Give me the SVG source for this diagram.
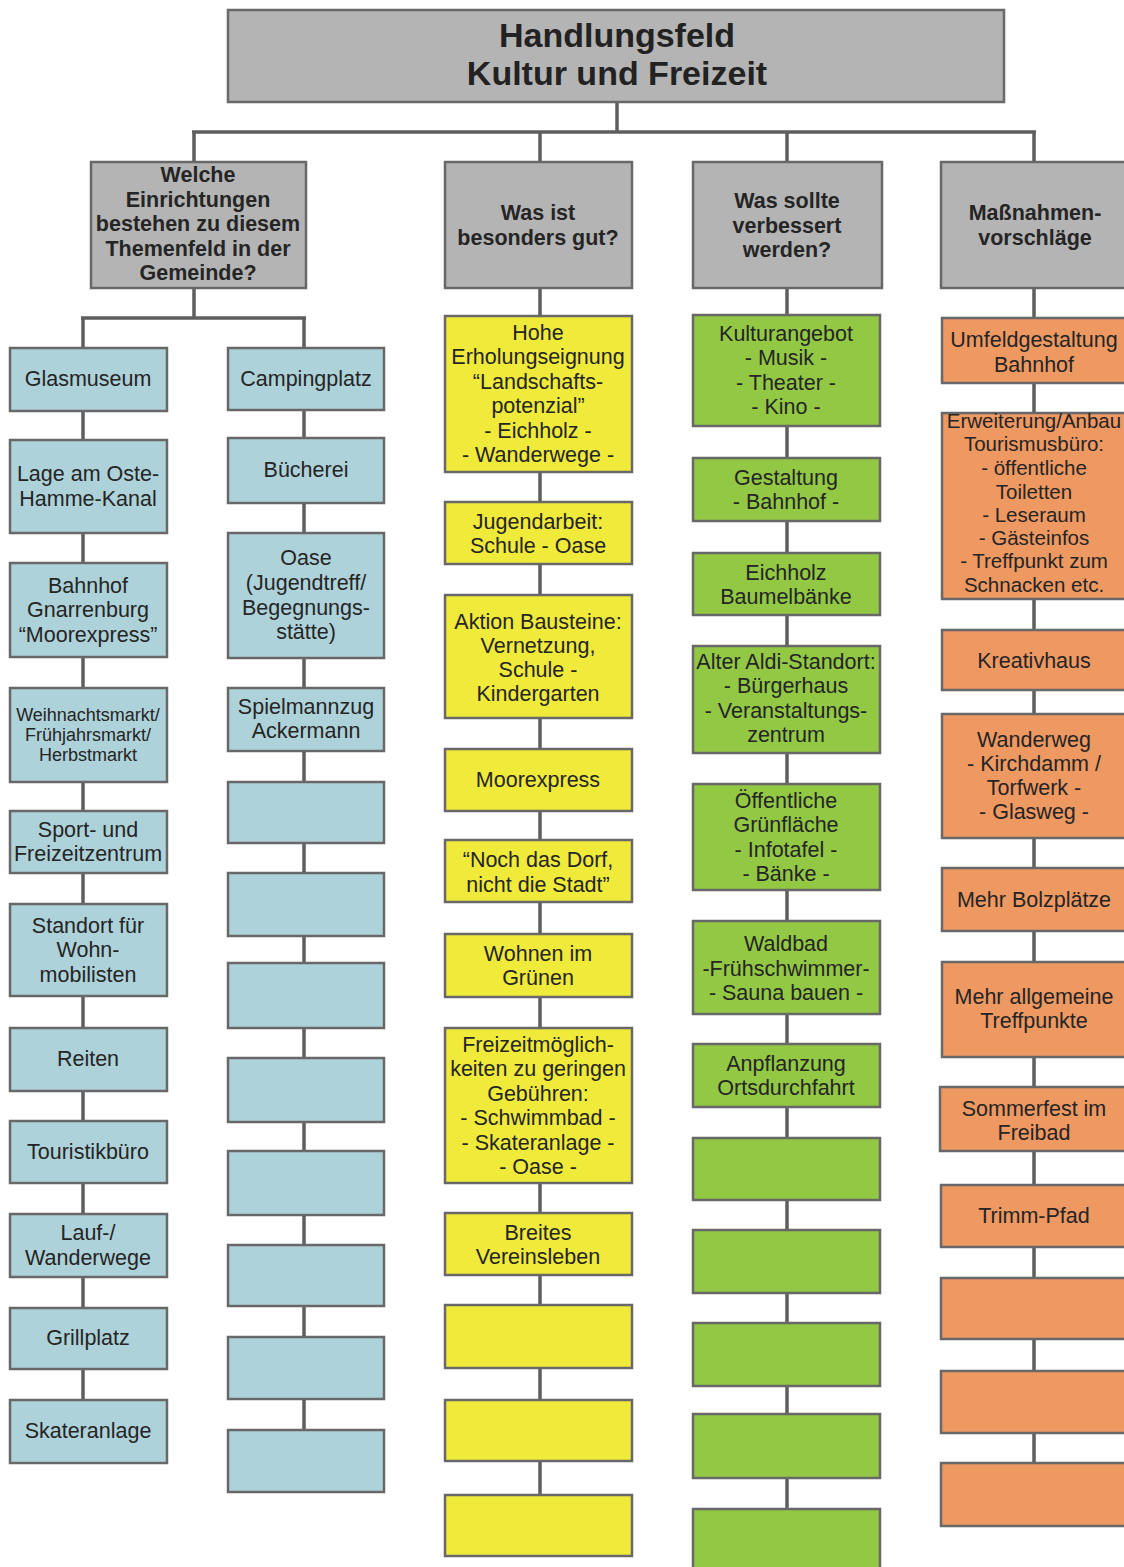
<svg xmlns="http://www.w3.org/2000/svg" width="1124" height="1567" viewBox="0 0 1124 1567">
<style>
rect{stroke:#686868;stroke-width:2.5}
.h{fill:#b4b4b4}
.b{fill:#aed2d9}
.y{fill:#f0ea3a}
.g{fill:#92c844}
.o{fill:#ee9862}
text{font-family:"Liberation Sans",Arial,sans-serif;font-size:21.5px;fill:#252525;text-anchor:middle}
.bold{font-weight:bold}
.title{font-weight:bold;font-size:34px;fill:#222}
.sm{font-size:18px}
.con line{stroke:#5e5e5e;stroke-width:3.5;fill:none}
</style>
<rect x="0" y="0" width="1124" height="1567" style="fill:#fff;stroke:none"/>
<g class="con" id="connectors">
<line x1="617" y1="102" x2="617" y2="132"/>
<line x1="192" y1="132" x2="1036" y2="132"/>
<line x1="194" y1="132" x2="194" y2="162"/>
<line x1="540" y1="132" x2="540" y2="162"/>
<line x1="787" y1="132" x2="787" y2="162"/>
<line x1="1034" y1="132" x2="1034" y2="162"/>
<line x1="194" y1="288" x2="194" y2="318"/>
<line x1="81" y1="318" x2="306" y2="318"/>
<line x1="83" y1="318" x2="83" y2="1400"/>
<line x1="304" y1="318" x2="304" y2="1430"/>
<line x1="540" y1="288" x2="540" y2="1495"/>
<line x1="787" y1="288" x2="787" y2="1509"/>
<line x1="1034" y1="288" x2="1034" y2="1463"/>
</g>
<g id="title"><rect class="h" x="228" y="10" width="776" height="92"/><text class="title" x="617" y="47">Handlungsfeld</text><text class="title" x="617" y="85">Kultur und Freizeit</text></g>
<g id="h1"><rect class="h" x="91" y="162" width="215" height="126"/><text class="bold"><tspan x="198" y="182">Welche</tspan><tspan x="198" y="207">Einrichtungen</tspan><tspan x="198" y="231">bestehen zu diesem</tspan><tspan x="198" y="256">Themenfeld in der</tspan><tspan x="198" y="280">Gemeinde?</tspan></text></g>
<g id="h2"><rect class="h" x="445" y="162" width="187" height="126"/><text class="bold"><tspan x="538" y="220">Was ist</tspan><tspan x="538" y="245">besonders gut?</tspan></text></g>
<g id="h3"><rect class="h" x="693" y="162" width="189" height="126"/><text class="bold"><tspan x="787" y="208">Was sollte</tspan><tspan x="787" y="233">verbessert</tspan><tspan x="787" y="257">werden?</tspan></text></g>
<g id="h4"><rect class="h" x="941" y="162" width="190" height="126"/><text class="bold"><tspan x="1035" y="220">Maßnahmen-</tspan><tspan x="1035" y="245">vorschläge</tspan></text></g>

<g id="bl1"><rect class="b" x="10" y="348" width="157" height="63"/><text x="88" y="386">Glasmuseum</text></g>
<g id="bl2"><rect class="b" x="10" y="440" width="157" height="93"/><text><tspan x="88" y="481">Lage am Oste-</tspan><tspan x="88" y="506">Hamme-Kanal</tspan></text></g>
<g id="bl3"><rect class="b" x="10" y="563" width="157" height="94"/><text><tspan x="88" y="593">Bahnhof</tspan><tspan x="88" y="617">Gnarrenburg</tspan><tspan x="88" y="642">“Moorexpress”</tspan></text></g>
<g id="bl4"><rect class="b" x="10" y="688" width="157" height="94"/><text class="sm"><tspan x="88" y="721">Weihnachtsmarkt/</tspan><tspan x="88" y="741">Frühjahrsmarkt/</tspan><tspan x="88" y="761">Herbstmarkt</tspan></text></g>
<g id="bl5"><rect class="b" x="10" y="811" width="157" height="62"/><text><tspan x="88" y="837">Sport- und</tspan><tspan x="88" y="861">Freizeitzentrum</tspan></text></g>
<g id="bl6"><rect class="b" x="10" y="904" width="157" height="92"/><text><tspan x="88" y="933">Standort für</tspan><tspan x="88" y="957">Wohn-</tspan><tspan x="88" y="982">mobilisten</tspan></text></g>
<g id="bl7"><rect class="b" x="10" y="1028" width="157" height="63"/><text x="88" y="1066">Reiten</text></g>
<g id="bl8"><rect class="b" x="10" y="1121" width="157" height="62"/><text x="88" y="1159">Touristikbüro</text></g>
<g id="bl9"><rect class="b" x="10" y="1214" width="157" height="63"/><text><tspan x="88" y="1240">Lauf-/</tspan><tspan x="88" y="1265">Wanderwege</tspan></text></g>
<g id="bl10"><rect class="b" x="10" y="1308" width="157" height="61"/><text x="88" y="1345">Grillplatz</text></g>
<g id="bl11"><rect class="b" x="10" y="1400" width="157" height="63"/><text x="88" y="1438">Skateranlage</text></g>

<g id="br1"><rect class="b" x="228" y="348" width="156" height="62"/><text x="306" y="386">Campingplatz</text></g>
<g id="br2"><rect class="b" x="228" y="438" width="156" height="65"/><text x="306" y="477">Bücherei</text></g>
<g id="br3"><rect class="b" x="228" y="533" width="156" height="125"/><text><tspan x="306" y="565">Oase</tspan><tspan x="306" y="590">(Jugendtreff/</tspan><tspan x="306" y="615">Begegnungs-</tspan><tspan x="306" y="639">stätte)</tspan></text></g>
<g id="br4"><rect class="b" x="228" y="688" width="156" height="63"/><text><tspan x="306" y="714">Spielmannzug</tspan><tspan x="306" y="738">Ackermann</tspan></text></g>
<g id="br5"><rect class="b" x="228" y="782" width="156" height="61"/></g>
<g id="br6"><rect class="b" x="228" y="873" width="156" height="63"/></g>
<g id="br7"><rect class="b" x="228" y="963" width="156" height="65"/></g>
<g id="br8"><rect class="b" x="228" y="1058" width="156" height="64"/></g>
<g id="br9"><rect class="b" x="228" y="1151" width="156" height="64"/></g>
<g id="br10"><rect class="b" x="228" y="1245" width="156" height="61"/></g>
<g id="br11"><rect class="b" x="228" y="1337" width="156" height="62"/></g>
<g id="br12"><rect class="b" x="228" y="1430" width="156" height="62"/></g>

<g id="y1"><rect class="y" x="445" y="316" width="187" height="156"/><text><tspan x="538" y="340">Hohe</tspan><tspan x="538" y="364">Erholungseignung</tspan><tspan x="538" y="389">“Landschafts-</tspan><tspan x="538" y="413">potenzial”</tspan><tspan x="538" y="438">- Eichholz -</tspan><tspan x="538" y="462">- Wanderwege -</tspan></text></g>
<g id="y2"><rect class="y" x="445" y="502" width="187" height="62"/><text><tspan x="538" y="529">Jugendarbeit:</tspan><tspan x="538" y="553">Schule - Oase</tspan></text></g>
<g id="y3"><rect class="y" x="445" y="595" width="187" height="123"/><text><tspan x="538" y="629">Aktion Bausteine:</tspan><tspan x="538" y="653">Vernetzung,</tspan><tspan x="538" y="677">Schule -</tspan><tspan x="538" y="701">Kindergarten</tspan></text></g>
<g id="y4"><rect class="y" x="445" y="749" width="187" height="62"/><text x="538" y="787">Moorexpress</text></g>
<g id="y5"><rect class="y" x="445" y="840" width="187" height="62"/><text><tspan x="538" y="867">“Noch das Dorf,</tspan><tspan x="538" y="892">nicht die Stadt”</tspan></text></g>
<g id="y6"><rect class="y" x="445" y="934" width="187" height="63"/><text><tspan x="538" y="961">Wohnen im</tspan><tspan x="538" y="985">Grünen</tspan></text></g>
<g id="y7"><rect class="y" x="445" y="1028" width="187" height="155"/><text><tspan x="538" y="1052">Freizeitmöglich-</tspan><tspan x="538" y="1076">keiten zu geringen</tspan><tspan x="538" y="1101">Gebühren:</tspan><tspan x="538" y="1125">- Schwimmbad -</tspan><tspan x="538" y="1150">- Skateranlage -</tspan><tspan x="538" y="1174">- Oase -</tspan></text></g>
<g id="y8"><rect class="y" x="445" y="1213" width="187" height="62"/><text><tspan x="538" y="1240">Breites</tspan><tspan x="538" y="1264">Vereinsleben</tspan></text></g>
<g id="y9"><rect class="y" x="445" y="1305" width="187" height="63"/></g>
<g id="y10"><rect class="y" x="445" y="1400" width="187" height="61"/></g>
<g id="y11"><rect class="y" x="445" y="1495" width="187" height="61"/></g>

<g id="g1"><rect class="g" x="693" y="315" width="187" height="111"/><text><tspan x="786" y="341">Kulturangebot</tspan><tspan x="786" y="365">- Musik -</tspan><tspan x="786" y="390">- Theater -</tspan><tspan x="786" y="414">- Kino -</tspan></text></g>
<g id="g2"><rect class="g" x="693" y="458" width="187" height="63"/><text><tspan x="786" y="485">Gestaltung</tspan><tspan x="786" y="509">- Bahnhof -</tspan></text></g>
<g id="g3"><rect class="g" x="693" y="553" width="187" height="62"/><text><tspan x="786" y="580">Eichholz</tspan><tspan x="786" y="604">Baumelbänke</tspan></text></g>
<g id="g4"><rect class="g" x="693" y="646" width="187" height="107"/><text><tspan x="786" y="669">Alter Aldi-Standort:</tspan><tspan x="786" y="693">- Bürgerhaus</tspan><tspan x="786" y="718">- Veranstaltungs-</tspan><tspan x="786" y="742">zentrum</tspan></text></g>
<g id="g5"><rect class="g" x="693" y="784" width="187" height="106"/><text><tspan x="786" y="808">Öffentliche</tspan><tspan x="786" y="832">Grünfläche</tspan><tspan x="786" y="857">- Infotafel -</tspan><tspan x="786" y="881">- Bänke -</tspan></text></g>
<g id="g6"><rect class="g" x="693" y="921" width="187" height="93"/><text><tspan x="786" y="951">Waldbad</tspan><tspan x="786" y="976">-Frühschwimmer-</tspan><tspan x="786" y="1000">- Sauna bauen -</tspan></text></g>
<g id="g7"><rect class="g" x="693" y="1044" width="187" height="63"/><text><tspan x="786" y="1071">Anpflanzung</tspan><tspan x="786" y="1095">Ortsdurchfahrt</tspan></text></g>
<g id="g8"><rect class="g" x="693" y="1138" width="187" height="62"/></g>
<g id="g9"><rect class="g" x="693" y="1230" width="187" height="63"/></g>
<g id="g10"><rect class="g" x="693" y="1323" width="187" height="63"/></g>
<g id="g11"><rect class="g" x="693" y="1414" width="187" height="64"/></g>
<g id="g12"><rect class="g" x="693" y="1509" width="187" height="62"/></g>

<g id="o1"><rect class="o" x="942" y="318" width="190" height="65"/><text><tspan x="1034" y="347">Umfeldgestaltung</tspan><tspan x="1034" y="372">Bahnhof</tspan></text></g>
<g id="o2"><rect class="o" x="942" y="413" width="190" height="186"/><text style="font-size:20.5px"><tspan x="1034" y="428">Erweiterung/Anbau</tspan><tspan x="1034" y="451">Tourismusbüro:</tspan><tspan x="1034" y="475">- öffentliche</tspan><tspan x="1034" y="499">Toiletten</tspan><tspan x="1034" y="522">- Leseraum</tspan><tspan x="1034" y="545">- Gästeinfos</tspan><tspan x="1034" y="568">- Treffpunkt zum</tspan><tspan x="1034" y="592">Schnacken etc.</tspan></text></g>
<g id="o3"><rect class="o" x="942" y="630" width="190" height="60"/><text x="1034" y="668">Kreativhaus</text></g>
<g id="o4"><rect class="o" x="942" y="714" width="190" height="124"/><text><tspan x="1034" y="747">Wanderweg</tspan><tspan x="1034" y="771">- Kirchdamm /</tspan><tspan x="1034" y="795">Torfwerk -</tspan><tspan x="1034" y="819">- Glasweg -</tspan></text></g>
<g id="o5"><rect class="o" x="942" y="868" width="190" height="63"/><text x="1034" y="907">Mehr Bolzplätze</text></g>
<g id="o6"><rect class="o" x="942" y="962" width="190" height="95"/><text><tspan x="1034" y="1004">Mehr allgemeine</tspan><tspan x="1034" y="1028">Treffpunkte</tspan></text></g>
<g id="o7"><rect class="o" x="940" y="1087" width="192" height="64"/><text><tspan x="1034" y="1116">Sommerfest im</tspan><tspan x="1034" y="1140">Freibad</tspan></text></g>
<g id="o8"><rect class="o" x="941" y="1185" width="191" height="62"/><text x="1034" y="1223">Trimm-Pfad</text></g>
<g id="o9"><rect class="o" x="941" y="1278" width="191" height="61"/></g>
<g id="o10"><rect class="o" x="941" y="1371" width="191" height="62"/></g>
<g id="o11"><rect class="o" x="941" y="1463" width="191" height="63"/></g>
</svg>
